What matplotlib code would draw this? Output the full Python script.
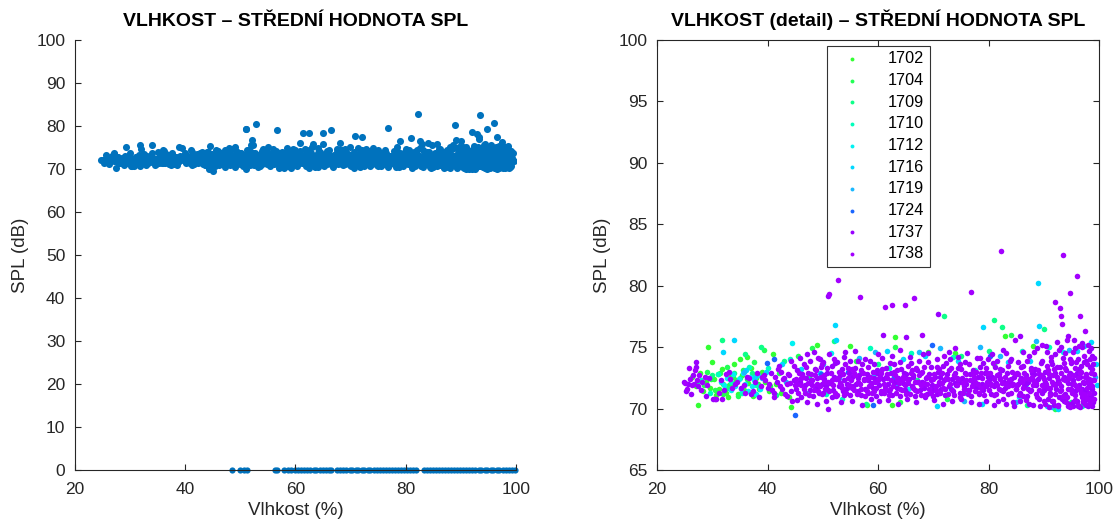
import numpy as np
import matplotlib
matplotlib.use("Agg")
import matplotlib.pyplot as plt

plt.rcParams['font.family'] = ['Liberation Sans', 'DejaVu Sans']

# humidity (%) / mean SPL (dB) pairs per sensor
s1702 = [(26.3, 72.6), (27.0, 71.8), (27.5, 70.3), (27.8, 72.9), (28.3, 71.4), (28.8, 72.2), (29.2, 75.0),
         (29.5, 71.7), (29.9, 73.8), (30.3, 72.4), (30.6, 71.1), (31.0, 72.8), (31.3, 71.6), (31.7, 73.2),
         (32.0, 72.0), (32.4, 71.3), (32.8, 70.9), (33.2, 72.6), (33.5, 71.8), (33.9, 73.6), (34.3, 72.3),
         (34.7, 71.2), (35.1, 74.0), (35.4, 72.7), (35.8, 71.5), (36.2, 74.2), (36.5, 72.1), (37.0, 73.3),
         (37.4, 71.0), (37.9, 72.5), (38.5, 71.6), (39.0, 73.0), (39.6, 72.2), (40.2, 71.4), (41.0, 74.4),
         (41.5, 72.0), (42.4, 71.3), (43.8, 70.9), (44.3, 70.1), (49.0, 75.2), (55.0, 75.1), (58.0, 70.3),
         (62.5, 70.3), (63.1, 75.8), (69.0, 74.6), (74.0, 74.5), (83.0, 75.9), (88.0, 75.1)]
s1704 = [(28.5, 71.9), (29.0, 73.0), (29.8, 72.4), (30.5, 71.5), (31.4, 72.9), (31.9, 71.2), (32.6, 73.4),
         (33.1, 71.9), (33.8, 72.6), (34.6, 71.0), (35.5, 73.1), (36.3, 72.4), (37.6, 73.8), (38.2, 72.0),
         (39.4, 74.8), (40.5, 71.8), (42.0, 72.9), (45.6, 74.3), (48.0, 74.9), (56.0, 73.9), (63.0, 75.0),
         (64.0, 70.5), (72.5, 70.8), (81.0, 73.6), (84.0, 76.0), (92.0, 70.0)]
s1709 = [(27.3, 72.1), (30.0, 72.7), (31.8, 75.6), (32.9, 71.7), (34.0, 72.9), (35.0, 72.5), (36.0, 74.4),
         (37.2, 72.9), (38.8, 75.0), (41.6, 71.1), (43.0, 73.9), (47.5, 72.6), (52.0, 75.5), (57.8, 70.4),
         (60.0, 73.6), (67.0, 72.3), (72.0, 77.5), (75.0, 74.3), (80.0, 74.7), (81.0, 77.2), (82.5, 76.6),
         (87.0, 70.3), (90.0, 76.5), (95.0, 70.5)]
s1710 = [(28.0, 72.3), (29.6, 71.3), (31.1, 72.8), (33.4, 72.2), (35.3, 71.3), (36.6, 73.4), (38.0, 71.9),
         (40.0, 73.3), (44.0, 74.0), (50.5, 71.2), (53.5, 70.8), (58.5, 74.9), (62.0, 73.3), (66.0, 74.5),
         (70.0, 71.0), (73.5, 74.2), (77.5, 73.1), (86.0, 74.7), (91.0, 75.0), (97.0, 70.2)]
s1712 = [(31.5, 72.2), (32.2, 71.9), (32.7, 72.5), (33.3, 71.5), (33.7, 72.8), (34.2, 71.8), (34.8, 72.4),
         (35.2, 71.6), (35.6, 72.9), (36.0, 72.0), (36.4, 71.4), (36.8, 72.6), (37.1, 71.8), (37.5, 72.3),
         (37.9, 71.2), (38.3, 72.7), (38.7, 71.6), (44.5, 75.3), (51.5, 74.5), (57.0, 73.0), (65.5, 71.6),
         (76.0, 71.3), (85.5, 70.9), (93.5, 74.6)]
s1716 = [(32.0, 74.6), (34.0, 75.6), (36.1, 73.1), (37.7, 72.6), (39.8, 73.0), (42.7, 73.6), (46.0, 73.2),
         (49.5, 72.9), (52.2, 76.8), (52.3, 75.6), (54.0, 71.4), (59.2, 72.8), (61.7, 74.7), (64.5, 74.0),
         (68.5, 74.3), (70.7, 70.2), (74.5, 73.9), (78.8, 70.4), (79.0, 76.6), (83.5, 73.8), (87.5, 73.9),
         (89.0, 80.2), (89.2, 76.7), (90.5, 70.2), (92.5, 70.0), (96.0, 74.7), (98.5, 75.4), (99.5, 73.6),
         (99.6, 71.9)]
s1719 = [(35.7, 73.0), (39.0, 72.5), (43.3, 72.2), (47.0, 71.3), (50.0, 73.6), (53.0, 72.5), (56.5, 74.1),
         (59.5, 74.6), (63.5, 72.0), (67.5, 74.6), (71.3, 74.9), (75.5, 70.6), (78.5, 75.0), (82.0, 74.3),
         (85.0, 70.5), (88.5, 75.5), (91.5, 70.1), (94.5, 74.8), (97.3, 75.1), (99.2, 72.6)]
s1724 = [(39.9, 73.7), (41.2, 74.0), (45.0, 69.5), (49.7, 72.8), (54.5, 73.0), (59.1, 70.3), (62.8, 72.6),
         (69.8, 75.2), (73.2, 71.6), (80.3, 74.3), (86.8, 72.0), (93.8, 70.6)]
s1737 = [(24.8, 72.2), (25.2, 71.4), (25.6, 72.0), (26.1, 71.2), (26.5, 72.7), (27.0, 73.8), (27.1, 73.4),
         (27.5, 71.8), (28.2, 72.2), (28.9, 71.0), (29.4, 72.5), (30.1, 70.8), (30.7, 70.8), (31.5, 72.3),
         (32.2, 71.5), (33.0, 73.0), (34.1, 72.0), (35.2, 71.7), (36.2, 72.6), (37.0, 71.2), (37.8, 72.2),
         (38.5, 70.9), (39.3, 72.7), (40.1, 71.7), (40.6, 72.9), (41.1, 71.3), (41.7, 72.2), (42.1, 73.5),
         (42.6, 71.6), (43.0, 72.5), (43.5, 71.0), (43.9, 72.7), (44.3, 71.4), (44.7, 72.3),
         (45.1, 71.6), (45.4, 73.1), (45.8, 72.2), (46.1, 70.9), (46.3, 72.8), (46.7, 71.9), (47.0, 72.5),
         (47.2, 74.4), (47.6, 71.5), (47.9, 72.3), (48.2, 71.0), (48.5, 73.2), (48.8, 71.7), (49.0, 72.5),
         (49.3, 71.3), (49.6, 73.4), (49.8, 72.0),
         (50.1, 71.3), (50.3, 72.4), (50.6, 71.8), (50.8, 72.9), (51.0, 70.0), (51.0, 79.2), (51.3, 72.1),
         (51.6, 73.5), (51.9, 71.5), (52.1, 72.6), (52.4, 71.0), (52.6, 73.8), (52.9, 71.8), (53.1, 72.7),
         (53.4, 73.2), (53.6, 71.4), (53.9, 72.3), (54.1, 74.6), (54.4, 71.7), (54.7, 72.9), (54.9, 71.1),
         (55.2, 72.6), (55.5, 71.8), (55.8, 73.3), (56.0, 72.0), (56.3, 71.4), (56.6, 72.7), (56.9, 71.1),
         (57.1, 73.6), (57.4, 72.3), (57.7, 71.6), (58.0, 72.8), (58.2, 71.3), (58.5, 73.9), (58.8, 72.1),
         (59.0, 71.7), (59.3, 72.5), (59.6, 71.0), (59.8, 73.1),
         (60.1, 71.9), (60.4, 72.7), (60.6, 71.3), (60.9, 76.0), (60.9, 72.4), (61.2, 71.8), (61.5, 73.3),
         (61.8, 72.0), (62.0, 71.4), (62.3, 72.9), (62.6, 71.1), (62.9, 73.6), (63.1, 72.2), (63.4, 71.7),
         (63.7, 72.5), (63.9, 71.0), (64.2, 73.2), (64.5, 72.1), (64.8, 71.5),
         (65.0, 75.8), (65.1, 72.8), (65.3, 71.3), (65.6, 72.4), (65.9, 73.7), (66.2, 71.8), (66.4, 72.6),
         (66.7, 71.0), (67.0, 73.1), (67.3, 72.2), (67.6, 71.5), (67.8, 72.9), (68.1, 74.4), (68.4, 71.7),
         (68.7, 72.5), (68.9, 71.2), (69.2, 72.8), (69.5, 73.4), (69.8, 71.9),
         (70.0, 71.5), (70.3, 72.6), (70.6, 71.2), (70.8, 77.7), (70.9, 73.0), (71.1, 72.0), (71.4, 71.6),
         (71.7, 73.5), (71.9, 72.3), (72.2, 71.1), (72.5, 72.8), (72.8, 71.8), (73.0, 74.0), (73.3, 72.4),
         (73.6, 71.4), (73.9, 72.9), (74.1, 71.9), (74.4, 73.3), (74.7, 72.2), (74.9, 71.3),
         (75.2, 72.5), (75.5, 71.8), (75.8, 73.8), (76.0, 72.0), (76.3, 71.5), (76.6, 72.8), (76.9, 71.0),
         (77.2, 73.1), (77.4, 72.3), (77.7, 71.7), (78.0, 72.6), (78.2, 70.4), (78.5, 73.4), (78.8, 72.0),
         (79.0, 71.5), (79.3, 72.9), (79.6, 71.8), (79.9, 74.0),
         (80.1, 72.3), (80.4, 71.2), (80.7, 72.6), (80.9, 71.8), (81.2, 73.4), (81.4, 72.1), (81.7, 70.6),
         (81.9, 72.8), (82.2, 71.5), (82.5, 73.1), (82.8, 72.2), (83.0, 71.7), (83.3, 72.9), (83.6, 71.2),
         (83.8, 73.9), (84.1, 72.4), (84.4, 70.5), (84.6, 72.6), (84.9, 71.6),
         (85.1, 72.9), (85.4, 72.0), (85.6, 75.9), (85.7, 71.3), (85.9, 72.5), (86.2, 73.5), (86.4, 71.8),
         (86.7, 72.7), (86.9, 71.0), (87.2, 72.2), (87.4, 74.3), (87.7, 71.5), (87.9, 72.9), (88.1, 70.3),
         (88.4, 73.2), (88.6, 71.9), (88.9, 72.4), (89.1, 70.8), (89.4, 73.7), (89.6, 71.3), (89.8, 72.6),
         (90.0, 71.5), (90.2, 73.0), (90.4, 71.9), (90.6, 74.6), (90.8, 70.8), (91.0, 72.5), (91.2, 71.3),
         (91.4, 73.6), (91.6, 72.0), (91.8, 70.3), (92.0, 72.9), (92.2, 71.6), (92.4, 75.4), (92.6, 72.3),
         (92.8, 70.9), (93.0, 73.4), (93.2, 71.8), (93.4, 74.1), (93.6, 70.6), (93.7, 72.6), (93.9, 71.2),
         (94.1, 73.1), (94.3, 75.9), (94.4, 72.1), (94.6, 70.4), (94.8, 72.9), (94.9, 71.5),
         (95.0, 73.7), (95.2, 70.2), (95.3, 72.3), (95.5, 75.6), (95.6, 71.4), (95.8, 72.7), (96.0, 70.6),
         (96.1, 74.0), (96.3, 71.9), (96.5, 72.6), (96.6, 70.1), (96.7, 73.5), (96.9, 71.6), (97.0, 75.3),
         (97.2, 72.1), (97.4, 70.7), (97.6, 73.9), (97.7, 71.4), (97.8, 72.5), (98.0, 70.2), (98.1, 74.7),
         (98.2, 72.0), (98.3, 71.1), (98.4, 73.4), (98.5, 70.9), (98.6, 72.3), (98.7, 71.6), (98.8, 74.3),
         (98.9, 70.5), (99.0, 72.8),
         (45.35, 70.7), (45.95, 74.1), (46.55, 73.6), (47.15, 70.5), (47.75, 73.9), (48.35, 74.6),
         (48.95, 70.4), (49.45, 74.0), (50.05, 73.8), (50.55, 70.6), (51.15, 74.4), (51.75, 70.9),
         (52.25, 73.7), (52.75, 72.4), (53.25, 70.5), (53.85, 74.2), (54.35, 72.0), (54.85, 73.9),
         (55.35, 70.6), (55.85, 74.7), (56.45, 72.5), (57.05, 70.3), (57.55, 74.0), (58.15, 72.3),
         (58.65, 70.8), (59.25, 73.6), (59.75, 72.9), (60.25, 70.6), (60.75, 74.1), (61.35, 72.6),
         (61.85, 70.7), (62.45, 74.3), (62.95, 72.2), (63.55, 70.4), (64.05, 73.8), (64.65, 72.9),
         (65.25, 70.8), (65.75, 74.2), (66.35, 72.7), (66.85, 70.5), (67.45, 73.9), (67.95, 72.2),
         (68.55, 70.9), (69.05, 74.5), (69.65, 72.4), (70.15, 70.7), (70.65, 74.0), (71.25, 72.6),
         (71.75, 70.4), (72.35, 73.7), (72.85, 74.6), (73.45, 70.6), (73.95, 72.1), (74.55, 74.2),
         (75.05, 70.8), (75.65, 72.9), (76.15, 74.5), (76.75, 70.5), (77.25, 72.0), (77.85, 74.1),
         (78.35, 71.2), (78.95, 73.7), (79.45, 70.6), (79.95, 72.6), (80.55, 74.4), (81.05, 70.3),
         (81.55, 73.9), (82.05, 72.5), (82.65, 74.8), (83.15, 70.4), (83.65, 72.2), (84.15, 74.0),
         (84.65, 70.2), (85.25, 73.8), (85.75, 70.6), (86.25, 74.6), (86.75, 72.1), (87.25, 70.4),
         (87.65, 73.3), (88.25, 72.8), (88.75, 74.9), (89.25, 70.2), (89.75, 73.9), (90.15, 72.2),
         (90.45, 75.1), (90.85, 70.1), (91.25, 73.9), (91.55, 70.6), (91.95, 74.4), (92.35, 72.1),
         (92.65, 70.3), (93.05, 75.0), (93.35, 70.8), (93.75, 74.5), (94.05, 72.4), (94.35, 70.2),
         (94.65, 74.0), (95.05, 72.0), (95.35, 70.5), (95.65, 74.9), (95.95, 72.9), (96.25, 70.2),
         (96.45, 73.2), (96.85, 75.0), (97.05, 70.5), (97.35, 73.8), (97.65, 70.3), (97.95, 75.2),
         (98.15, 71.8), (98.45, 74.9), (98.75, 70.2), (98.95, 73.6), (99.05, 71.3), (99.15, 74.1)]
s1738 = [(25.0, 72.1), (25.4, 71.6), (25.9, 72.4), (26.3, 71.9), (26.8, 73.1), (27.2, 72.3), (27.9, 71.5),
         (28.6, 72.6), (30.4, 70.8), (31.2, 71.3), (32.5, 72.8), (33.6, 71.7), (34.5, 72.2), (35.8, 71.9),
         (36.6, 72.5), (37.3, 71.4), (38.1, 72.9), (38.9, 71.8), (39.6, 72.3), (40.3, 72.0), (40.8, 71.5),
         (41.4, 72.6), (41.9, 73.2), (42.3, 71.8), (42.8, 72.4), (43.2, 71.2), (43.7, 72.8), (44.1, 72.1),
         (44.5, 70.6), (44.8, 73.5), (45.0, 71.9),
         (45.2, 72.4), (45.5, 71.3), (45.7, 72.9), (46.0, 71.9), (46.4, 72.6), (46.6, 71.6), (46.9, 73.4),
         (47.3, 72.1), (47.5, 71.1), (47.8, 72.8), (48.1, 72.3), (48.4, 71.5), (48.7, 73.1), (48.9, 72.0),
         (49.2, 74.1), (49.5, 71.8), (49.7, 72.6), (49.9, 71.2),
         (50.2, 72.7), (50.4, 71.6), (50.7, 73.3), (50.9, 72.2), (51.1, 79.3), (51.2, 71.4), (51.5, 72.9),
         (51.8, 71.9), (52.0, 74.0), (52.3, 72.4), (52.5, 71.1), (52.8, 80.5), (52.9, 73.0), (53.2, 72.1),
         (53.4, 71.7), (53.7, 72.8), (54.0, 73.6), (54.2, 71.3), (54.5, 72.5), (54.8, 71.9),
         (55.1, 72.3), (55.3, 73.2), (55.6, 71.5), (55.9, 72.7), (56.1, 71.2), (56.4, 73.9), (56.7, 79.1),
         (56.8, 72.0), (57.0, 71.6), (57.3, 72.9), (57.6, 71.0), (57.8, 72.4), (58.1, 73.4), (58.3, 71.8),
         (58.6, 72.6), (58.9, 71.3), (59.1, 73.0), (59.4, 72.2), (59.7, 71.7), (59.9, 74.4),
         (60.2, 72.5), (60.5, 71.4), (60.7, 73.2), (61.0, 72.0), (61.3, 78.3), (61.3, 71.6), (61.6, 72.8),
         (61.9, 71.1), (62.1, 73.7), (62.4, 72.3), (62.5, 78.4), (62.7, 71.8), (63.0, 72.7), (63.2, 71.3),
         (63.5, 73.1), (63.8, 72.1), (64.0, 74.8), (64.3, 71.5), (64.6, 72.6), (64.9, 78.4), (64.9, 71.9),
         (65.2, 72.4), (65.4, 73.5), (65.7, 71.2), (66.0, 72.9), (66.3, 71.7), (66.5, 79.0), (66.6, 72.2),
         (66.9, 73.3), (67.1, 71.4), (67.4, 72.7), (67.7, 71.9), (68.0, 76.0), (68.0, 73.0), (68.3, 72.1),
         (68.5, 71.1), (68.8, 72.6), (69.1, 73.8), (69.3, 71.6), (69.6, 72.3), (69.9, 71.0),
         (70.1, 72.8), (70.4, 71.8), (70.7, 73.4), (71.0, 72.2), (71.2, 71.3), (71.5, 72.9), (71.8, 71.7),
         (72.0, 74.3), (72.3, 72.5), (72.6, 71.2), (72.9, 73.1), (73.1, 72.0), (73.4, 71.5), (73.7, 72.7),
         (74.0, 74.9), (74.2, 71.9), (74.5, 72.4), (74.8, 70.9),
         (75.1, 73.2), (75.3, 72.1), (75.6, 71.6), (75.9, 72.8), (76.2, 71.2), (76.4, 73.6), (76.7, 72.3),
         (76.8, 79.5), (77.0, 71.8), (77.3, 72.6), (77.5, 71.4), (77.8, 73.0), (78.1, 72.0), (78.4, 74.1),
         (78.6, 71.7), (78.9, 72.5), (79.2, 71.1), (79.5, 73.3), (79.7, 72.2),
         (80.0, 71.5), (80.3, 72.9), (80.5, 71.9), (80.8, 73.7), (81.0, 72.4), (81.3, 71.2), (81.6, 72.7),
         (81.8, 71.6), (82.1, 73.2), (82.2, 82.8), (82.4, 72.1), (82.7, 70.8), (82.9, 72.6), (83.2, 74.5),
         (83.5, 71.8), (83.7, 72.3), (84.0, 71.3), (84.3, 73.0), (84.5, 72.0), (84.8, 75.6),
         (85.0, 71.6), (85.3, 72.8), (85.5, 71.1), (85.8, 73.4), (86.0, 72.2), (86.3, 71.7), (86.5, 72.9),
         (86.8, 70.7), (87.0, 73.9), (87.3, 72.4), (87.5, 71.4), (87.8, 72.6), (88.0, 71.9), (88.2, 74.6),
         (88.5, 72.1), (88.7, 70.9), (89.0, 73.1), (89.2, 71.5), (89.5, 72.7), (89.7, 75.2), (89.9, 71.8),
         (90.1, 72.4), (90.3, 70.4), (90.5, 73.5), (90.7, 71.7), (90.9, 72.8), (91.1, 71.1), (91.3, 74.2),
         (91.5, 72.2), (91.7, 70.6), (91.9, 73.2), (92.0, 78.7), (92.1, 71.9), (92.3, 72.6), (92.5, 70.2),
         (92.7, 74.8), (92.9, 71.4), (93.0, 78.2), (93.1, 72.9), (93.2, 77.5), (93.3, 76.9), (93.4, 71.0),
         (93.5, 82.5), (93.6, 73.7), (93.8, 72.3), (94.0, 70.5), (94.2, 75.6), (94.3, 71.6), (94.5, 72.7),
         (94.7, 70.1), (94.8, 79.4), (94.9, 73.9),
         (95.1, 71.3), (95.2, 74.6), (95.4, 72.0), (95.6, 70.7), (95.7, 73.3), (95.9, 71.8), (96.0, 80.8),
         (96.1, 72.5), (96.2, 70.3), (96.4, 75.1), (96.5, 77.5), (96.6, 71.5), (96.8, 73.0), (96.9, 70.9),
         (97.1, 72.2), (97.2, 74.3), (97.3, 71.2), (97.5, 76.3), (97.5, 70.4), (97.7, 72.8), (97.8, 71.7),
         (97.9, 73.6), (98.0, 70.8), (98.1, 72.4), (98.2, 71.3), (98.3, 74.0), (98.4, 70.6), (98.5, 72.9),
         (98.6, 71.9), (98.7, 73.2),
         (25.7, 73.3), (26.6, 72.0), (27.6, 72.7), (29.1, 71.9), (31.8, 70.8), (33.2, 72.4), (36.0, 71.3),
         (39.0, 72.6), (41.2, 70.9), (42.5, 73.0), (43.5, 72.0), (44.2, 73.9),
         (45.4, 72.0), (46.1, 72.5), (46.8, 71.3), (47.4, 72.9), (48.0, 71.9), (48.6, 72.7), (49.1, 71.4),
         (49.8, 73.6), (50.3, 72.2), (51.0, 71.5), (51.6, 72.3), (52.2, 71.3), (52.7, 72.5), (53.3, 71.9),
         (53.9, 71.1), (54.6, 73.3), (55.2, 71.7), (55.7, 72.9), (56.3, 72.2), (56.9, 73.1), (57.5, 72.4),
         (58.0, 71.4), (58.7, 72.0), (59.3, 71.4), (60.0, 72.3), (60.6, 72.9), (61.1, 71.3), (61.7, 72.5),
         (62.2, 71.6), (62.8, 73.0), (63.4, 72.4), (63.9, 71.6), (64.4, 72.3), (65.0, 71.2), (65.5, 72.1),
         (66.1, 73.1), (66.7, 71.5), (67.2, 72.2), (67.8, 71.1), (68.4, 73.4), (68.9, 72.0), (69.5, 71.3),
         (70.0, 72.4), (70.5, 71.5), (71.1, 73.2), (71.6, 72.1), (72.1, 71.6), (72.7, 72.4), (73.2, 73.3),
         (73.8, 71.1), (74.3, 72.5), (74.9, 73.6), (75.4, 71.3), (76.0, 72.3), (76.5, 71.5), (77.1, 72.9),
         (77.6, 72.2), (78.2, 71.3), (78.7, 72.9), (79.3, 71.8), (79.8, 72.9), (80.4, 72.0), (80.9, 71.1),
         (81.5, 71.9), (82.0, 72.4), (82.6, 71.4), (83.1, 72.0), (83.6, 73.5), (84.2, 71.9), (84.7, 72.8),
         (85.2, 71.9), (85.7, 72.3), (86.2, 71.0), (86.6, 72.5), (87.1, 71.6), (87.6, 73.1), (88.1, 72.3),
         (88.6, 71.2), (89.1, 72.8), (89.6, 71.9), (90.0, 70.6), (90.4, 72.0), (90.8, 73.1), (91.2, 71.7),
         (91.6, 72.7), (92.0, 71.2), (92.4, 73.4), (92.8, 72.1), (93.1, 71.5), (93.5, 72.4), (93.9, 73.3),
         (94.2, 70.9), (94.6, 72.5), (94.9, 71.6), (95.3, 72.7), (95.6, 71.1), (95.9, 73.8), (96.2, 71.7),
         (96.5, 72.9), (96.8, 71.3), (97.1, 70.6), (97.4, 72.6), (97.7, 70.9), (97.9, 72.2), (98.2, 70.4),
         (98.4, 72.2), (98.6, 70.7), (98.8, 71.8), (99.0, 72.3), (99.1, 70.8)]

# humidity values of the records with SPL = 0
zero_spl_x = [48.5, 50.0, 50.7, 51.2, 56.3, 56.6, 58.0, 58.6, 59.2, 59.9, 60.5, 61.0, 61.6, 62.1, 62.7,
              63.3, 63.8, 64.4, 65.0, 65.5, 66.0, 66.4, 67.6, 68.1, 68.7, 69.2, 69.8, 70.3, 70.9, 71.4,
              72.0, 72.5, 73.1, 73.6, 74.2, 74.7, 75.3, 75.8, 76.4, 76.9, 77.5, 78.0, 78.6, 79.1, 79.7,
              80.2, 80.8, 81.3, 81.8, 83.3, 83.8, 84.4, 84.9, 85.5, 86.0, 86.6, 87.1, 87.7, 88.2, 88.8,
              89.3, 89.9, 90.4, 91.0, 91.5, 92.1, 92.6, 93.2, 93.7, 94.3, 94.8, 95.4, 95.9, 96.5, 97.0,
              97.6, 98.1, 98.7, 99.2, 99.8]

sensor_ids = ['1702', '1704', '1709', '1710', '1712', '1716', '1719', '1724', '1737', '1738']
sensor_data = [s1702, s1704, s1709, s1710, s1712, s1716, s1719, s1724, s1737, s1738]
sensor_colors = ['#33ff33', '#22ff55', '#0dff88', '#00ffbb', '#00f2f2', '#00d8ff', '#1ab8ff',
                 '#1a66ff', '#9900ff', '#a300ff']

AX_COLOR = '#262626'

fig = plt.figure(figsize=(11.14, 5.26), dpi=100)
ax1 = fig.add_axes([0.0673, 0.1065, 0.3959, 0.8175])
ax2 = fig.add_axes([0.5898, 0.1065, 0.3968, 0.8175])

# left: all sensors together, including zero readings
all_pts = np.array([p for pts in sensor_data for p in pts])
ax1.scatter(all_pts[:, 0], all_pts[:, 1], s=26, color='#0072BD', linewidths=0)
ax1.scatter(zero_spl_x, np.zeros(len(zero_spl_x)), s=20, color='#0072BD', linewidths=0,
            clip_on=False, zorder=1)
ax1.set_xlim(20, 100)
ax1.set_ylim(0, 100)
ax1.set_xticks([20, 40, 60, 80, 100])
ax1.set_yticks(np.arange(0, 101, 10))
ax1.spines['top'].set_visible(False)
ax1.spines['right'].set_visible(False)
ax1.set_title('VLHKOST – STŘEDNÍ HODNOTA SPL', fontsize=14, fontweight='bold', pad=10)

# right: detail, one colour per sensor
for sid, pts, col in zip(sensor_ids, sensor_data, sensor_colors):
    arr = np.array(pts)
    ax2.scatter(arr[:, 0], arr[:, 1], s=16, color=col, linewidths=0, label=sid)
ax2.set_xlim(20, 100)
ax2.set_ylim(65, 100)
ax2.set_xticks([20, 40, 60, 80, 100])
ax2.set_yticks(np.arange(65, 101, 5))
ax2.tick_params(top=True, right=True)
ax2.set_title('VLHKOST (detail) – STŘEDNÍ HODNOTA SPL', fontsize=14, fontweight='bold', pad=10)
leg = ax2.legend(loc='upper center', fontsize=11.7, frameon=True, fancybox=False, edgecolor='black',
                 borderpad=0.35, handlelength=2.4, handletextpad=1.0, labelspacing=0.41,
                 borderaxespad=0.35, scatterpoints=1, markerscale=0.7)
leg.get_frame().set_linewidth(0.8)

for ax in (ax1, ax2):
    ax.set_xlabel('Vlhkost (%)', fontsize=13.5, color=AX_COLOR, labelpad=3)
    ax.set_ylabel('SPL (dB)', fontsize=13.5, color=AX_COLOR, labelpad=5)
    ax.tick_params(direction='in', length=4, width=0.8, labelsize=12.5, colors=AX_COLOR)
    ax.tick_params(axis='x', pad=9)
    ax.tick_params(axis='y', pad=7)
    for sp in ax.spines.values():
        sp.set_color(AX_COLOR)
        sp.set_linewidth(0.8)

fig.savefig('out.png', dpi=100)
